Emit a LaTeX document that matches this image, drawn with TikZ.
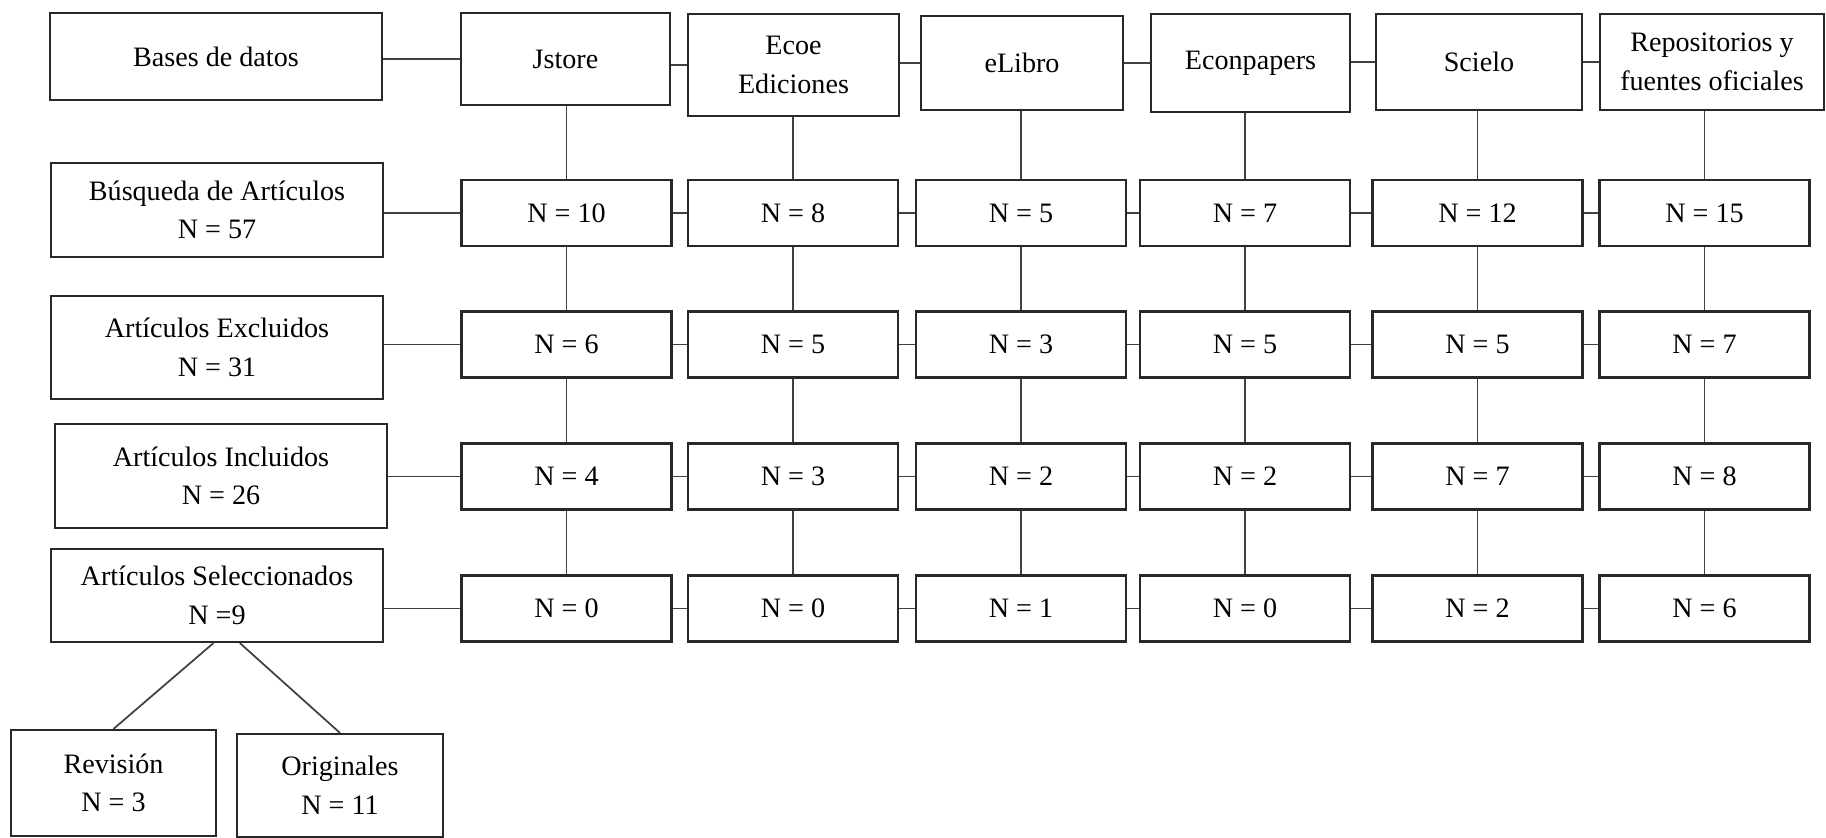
\documentclass[tikz,border=0pt]{standalone}
\usepackage{fontspec}
\setmainfont{Liberation Serif}
\usepackage{tikz}
\usetikzlibrary{positioning}
\definecolor{boxline}{RGB}{40,40,40}
\definecolor{linkline}{RGB}{65,65,65}
\tikzset{
  dbox/.style={draw=boxline,line width=0.6pt,align=center,inner sep=2pt,
               font=\fontsize{8}{11}\selectfont},
  nbox/.style={dbox,minimum width=2.1cm,minimum height=0.66cm},
  link/.style={draw=linkline,line width=0.5pt},
}

\begin{document}
\begin{tikzpicture}
\useasboundingbox (0,0) rectangle (18.26,-8.38);

% ============ left column: stages ============
\node[dbox,minimum width=3.32cm,minimum height=0.87cm] (bases) at (2.16,-0.565) {Bases de datos};
\node[dbox,minimum width=3.32cm,minimum height=0.94cm] (busqueda) at (2.17,-2.10)
  {Búsqueda de Artículos\\ N = 57};
\node[dbox,minimum width=3.32cm,minimum height=1.03cm] (excluidos) at (2.17,-3.475)
  {Artículos Excluidos\\ N = 31};
\node[dbox,minimum width=3.32cm,minimum height=1.04cm] (incluidos) at (2.21,-4.76)
  {Artículos Incluidos\\ N = 26};
\node[dbox,minimum width=3.32cm,minimum height=0.93cm] (seleccionados) at (2.17,-5.955)
  {Artículos Seleccionados\\ N =9};
\node[dbox,minimum width=2.05cm,minimum height=1.06cm] (revision) at (1.135,-7.83)
  {Revisión\\ N = 3};
\node[dbox,minimum width=2.06cm,minimum height=1.03cm] (originales) at (3.40,-7.855)
  {Originales\\ N = 11};

% ============ top row: databases ============
\node[dbox,minimum width=2.09cm,minimum height=0.92cm] (jstore) at (5.655,-0.59) {Jstore};
\node[dbox,minimum width=2.11cm,minimum height=1.02cm] (ecoe) at (7.935,-0.65) {Ecoe\\ Ediciones};
\node[dbox,minimum width=2.02cm,minimum height=0.94cm] (elibro) at (10.22,-0.63) {eLibro};
\node[dbox,minimum width=1.99cm,minimum height=0.98cm] (econpapers) at (12.505,-0.63) {Econpapers};
\node[dbox,minimum width=2.06cm,minimum height=0.96cm] (scielo) at (14.79,-0.62) {Scielo};
\node[dbox,minimum width=2.24cm,minimum height=0.96cm] (repositorios) at (17.12,-0.62)
  {Repositorios y\\ fuentes oficiales};

% ============ counts per database and stage ============
\foreach \c/\x/\na/\nb/\nc/\nd in {%
  jstore/5.665/10/6/4/0,
  ecoe/7.93/8/5/3/0,
  elibro/10.21/5/3/2/1,
  econpapers/12.45/7/5/2/0,
  scielo/14.775/12/5/7/2,
  repositorios/17.045/15/7/8/6} {
  \node[nbox] (\c1) at (\x,-2.13) {N = \na};
  \node[nbox] (\c2) at (\x,-3.445) {N = \nb};
  \node[nbox] (\c3) at (\x,-4.765) {N = \nc};
  \node[nbox] (\c4) at (\x,-6.085) {N = \nd};
  \draw[link] (\c1.north) -- (\c1.north |- \c.south);
  \foreach \r [count=\s from 2] in {1,2,3} {
    \draw[link] (\c\r.south) -- (\c\r.south |- \c\s.north);
  }
}

% ============ horizontal links ============
\foreach \l/\r in {bases/jstore,busqueda/jstore1,excluidos/jstore2,incluidos/jstore3,seleccionados/jstore4}
  \draw[link] (\r.west -| \l.east) -- (\r.west);
\foreach \a/\b in {jstore/ecoe,ecoe/elibro,elibro/econpapers,econpapers/scielo,scielo/repositorios} {
  \draw[link] (\b.west -| \a.east) -- (\b.west);
  \foreach \r in {1,2,3,4}
    \draw[link] (\b\r.west -| \a\r.east) -- (\b\r.west);
}

% ============ split of the selected articles ============
\draw[link] ([xshift=-1pt]seleccionados.south) -- (revision.north);
\draw[link] ([xshift=6.5pt]seleccionados.south) -- (originales.north);
\end{tikzpicture}
\end{document}
